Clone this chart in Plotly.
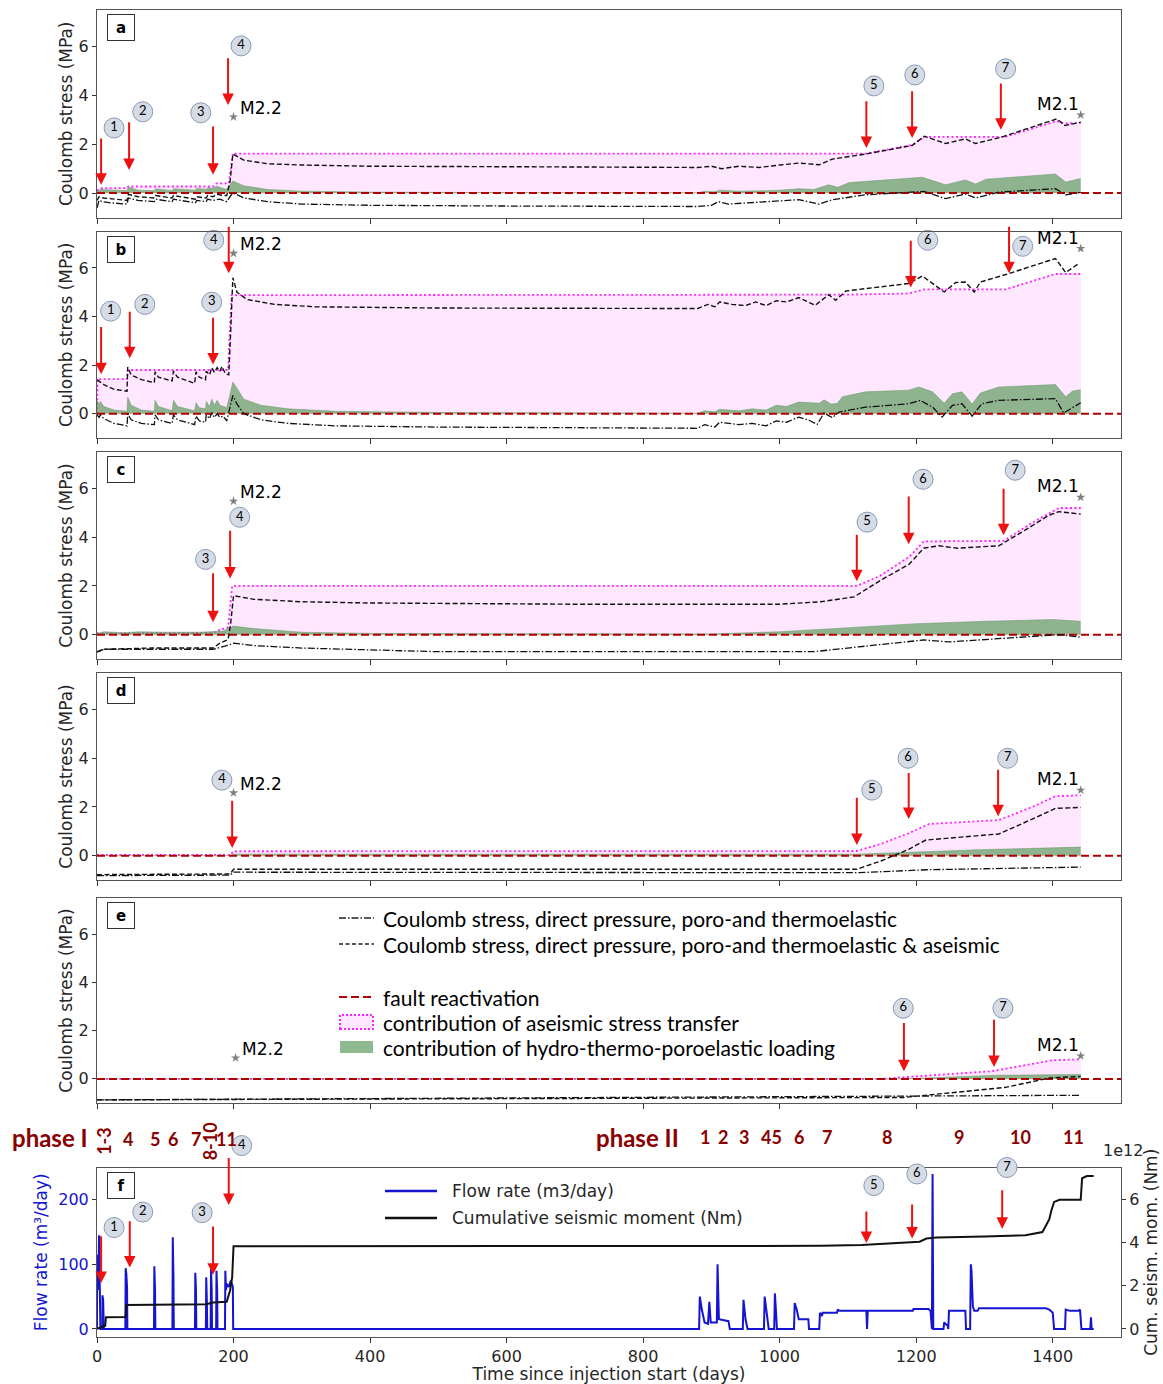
import plotly.graph_objects as go

W, H = 1163, 1384
FONT = "DejaVu Sans"
LEG_FONT = "Lato"
TXT = "#262626"

# ---------------- data (day, MPa) ----------------
a_dashdot = [(0,-0.6),(3,-0.3),(8,-0.35),(20,-0.4),(44,-0.45),(46,-0.2),(60,-0.3),(84,-0.35),(86,-0.25),(110,-0.35),
             (112,-0.25),(144,-0.4),(146,-0.3),(160,-0.35),(162,-0.25),(170,-0.3),(180,-0.25),(190,-0.35),(196,-0.1),
             (200,0.0),(215,-0.2),(250,-0.35),(300,-0.45),(400,-0.5),(600,-0.53),(880,-0.55),(900,-0.5),(910,-0.35),
             (925,-0.45),(950,-0.4),(980,-0.35),(1000,-0.3),(1028,-0.27),(1058,-0.45),(1077,-0.27),(1126,-0.07),
             (1199,0.03),(1211,0.07),(1243,-0.23),(1272,-0.04),(1287,-0.2),(1321,0.04),(1404,0.18),(1419,-0.07),(1441,0.03)]
a_dashed = [(0,-0.3),(3,-0.15),(10,-0.2),(44,-0.3),(46,-0.05),(60,-0.15),(84,-0.2),(86,-0.1),(110,-0.2),(112,-0.1),
            (144,-0.25),(146,-0.15),(160,-0.2),(162,-0.1),(170,-0.15),(175,-0.05),(185,-0.1),(190,-0.1),(195,0.5),
            (199,1.6),(215,1.35),(250,1.2),(300,1.15),(400,1.1),(600,1.08),(880,1.05),(900,1.1),(915,1.0),(940,1.1),
            (970,1.05),(1000,1.15),(1028,1.23),(1058,1.16),(1077,1.39),(1126,1.6),(1194,1.95),(1212,2.33),(1243,2.03),
            (1272,2.22),(1287,2.03),(1326,2.3),(1365,2.67),(1406,3.04),(1418,2.77),(1441,2.9)]
a_aseismic = [(0,0.1),(5,0.2),(44,0.2),(46,0.27),(170,0.27),(175,0.4),(193,0.4),(199,1.62),(1126,1.62),(1194,1.97),
              (1212,2.3),(1330,2.3),(1365,2.6),(1406,2.95),(1418,2.85),(1441,2.88)]
a_hydro = [(0,0.05),(5,0.15),(44,0.1),(46,0.25),(60,0.12),(84,0.1),(86,0.18),(110,0.1),(112,0.18),(144,0.12),(146,0.2),
           (160,0.15),(162,0.22),(170,0.2),(175,0.28),(185,0.2),(190,0.15),(195,0.35),(199,0.5),(215,0.3),(250,0.15),
           (300,0.08),(400,0.04),(600,0.02),(880,0.01),(890,0.08),(905,0.05),(912,0.12),(940,0.08),(980,0.1),
           (1000,0.12),(1028,0.18),(1050,0.15),(1072,0.34),(1085,0.24),(1102,0.43),(1150,0.54),(1209,0.65),
           (1243,0.34),(1272,0.54),(1287,0.37),(1302,0.57),(1404,0.78),(1419,0.45),(1441,0.6)]

b_dashdot = [(0,-0.05),(3,-0.15),(5,-0.05),(10,-0.2),(25,-0.4),(44,-0.5),(45,0.0),(50,-0.25),(65,-0.4),(84,-0.45),
             (85,-0.05),(90,-0.25),(110,-0.4),(112,-0.05),(118,-0.25),(143,-0.45),(145,-0.1),(150,-0.3),(159,-0.35),
             (160,-0.05),(165,-0.2),(168,0.05),(172,-0.15),(176,0.0),(180,-0.15),(185,-0.1),(190,-0.3),(194,0.2),
             (199,0.75),(205,0.4),(215,0.0),(240,-0.25),(280,-0.4),(350,-0.5),(500,-0.55),(880,-0.6),(890,-0.45),
             (905,-0.55),(912,-0.35),(940,-0.45),(960,-0.4),(980,-0.5),(995,-0.3),(1010,-0.35),(1028,-0.14),
             (1043,-0.27),(1055,-0.44),(1065,0.03),(1077,-0.16),(1087,0.07),(1126,0.27),(1189,0.41),(1206,0.55),
             (1224,0.27),(1238,-0.14),(1253,0.34),(1267,0.41),(1282,-0.1),(1296,0.41),(1321,0.55),(1404,0.62),
             (1416,0.03),(1441,0.45)]
b_dashed = [(0,1.4),(3,1.35),(10,1.2),(25,1.0),(44,0.93),(45,1.92),(50,1.6),(65,1.4),(84,1.28),(85,1.72),(90,1.5),
            (110,1.35),(112,1.75),(118,1.5),(143,1.25),(145,1.72),(150,1.5),(159,1.4),(160,1.75),(165,1.6),(168,1.9),
            (172,1.7),(176,1.9),(180,1.75),(183,1.95),(188,1.65),(193,1.6),(196,3.5),(199,5.6),(205,5.0),(220,4.7),
            (260,4.5),(320,4.4),(500,4.35),(880,4.33),(895,4.5),(905,4.4),(912,4.6),(930,4.5),(950,4.45),(965,4.6),
            (980,4.45),(995,4.65),(1010,4.6),(1028,4.78),(1052,4.46),(1072,4.9),(1082,4.67),(1097,5.05),(1189,5.36),
            (1209,5.67),(1241,5.01),(1258,5.4),(1272,5.42),(1285,5.01),(1294,5.42),(1336,5.77),(1404,6.39),
            (1419,5.81),(1438,6.18)]
b_aseismic = [(0,0.0),(1,1.42),(44,1.42),(45,1.8),(192,1.8),(197,4.88),(1100,4.9),(1189,4.95),(1212,5.12),
              (1331,5.12),(1404,5.75),(1441,5.75)]
b_hydro = [(0,0.55),(3,0.4),(5,0.5),(10,0.3),(25,0.15),(44,0.1),(45,0.68),(50,0.35),(65,0.15),(84,0.1),(85,0.55),
           (90,0.3),(110,0.12),(112,0.55),(118,0.3),(143,0.12),(145,0.45),(150,0.25),(159,0.2),(160,0.5),(165,0.3),
           (168,0.6),(172,0.35),(176,0.55),(180,0.35),(185,0.3),(190,0.25),(194,0.7),(199,1.3),(205,1.05),(215,0.6),
           (240,0.35),(280,0.2),(350,0.1),(500,0.05),(880,0.02),(890,0.12),(905,0.08),(912,0.18),(940,0.12),
           (960,0.2),(980,0.15),(995,0.35),(1010,0.3),(1028,0.48),(1058,0.43),(1065,0.57),(1075,0.4),(1084,0.42),
           (1092,0.7),(1126,0.9),(1189,0.97),(1204,1.1),(1224,0.9),(1241,0.43),(1253,0.82),(1267,0.9),(1282,0.4),
           (1294,0.85),(1321,1.1),(1404,1.2),(1419,0.7),(1429,0.93),(1441,0.99)]

c_dashdot = [(0,-0.72),(10,-0.6),(40,-0.6),(170,-0.6),(190,-0.45),(200,-0.35),(230,-0.45),(300,-0.55),(500,-0.7),
             (1050,-0.7),(1116,-0.5),(1211,-0.22),(1248,-0.3),(1321,-0.15),(1409,0.0),(1441,-0.1)]
c_dashed = [(0,-0.7),(10,-0.6),(40,-0.58),(80,-0.55),(170,-0.55),(180,-0.35),(192,-0.2),(196,0.5),(200,1.6),
            (230,1.45),(300,1.35),(400,1.3),(700,1.25),(1000,1.25),(1060,1.35),(1109,1.55),(1146,2.2),(1190,2.9),
            (1211,3.55),(1233,3.65),(1260,3.55),(1321,3.65),(1360,4.3),(1394,4.9),(1409,5.05),(1441,4.95)]
c_aseismic = [(0,0.05),(170,0.07),(180,0.2),(192,0.3),(198,2.0),(1113,2.0),(1146,2.4),(1190,3.2),(1211,3.83),
              (1328,3.85),(1370,4.6),(1409,5.2),(1441,5.2)]
c_hydro = [(0,0.05),(10,0.12),(40,0.08),(60,0.12),(100,0.1),(150,0.1),(185,0.15),(195,0.3),(200,0.35),(230,0.25),
           (300,0.1),(400,0.05),(600,0.03),(900,0.03),(1000,0.12),(1100,0.3),(1200,0.45),(1300,0.55),(1400,0.62),
           (1441,0.55)]

d_dashdot = [(0,-0.82),(195,-0.8),(200,-0.68),(970,-0.72),(1116,-0.7),(1214,-0.58),(1441,-0.47)]
d_dashed = [(0,-0.78),(195,-0.75),(200,-0.56),(1113,-0.56),(1150,-0.2),(1189,0.26),(1214,0.64),(1321,0.89),
            (1370,1.5),(1404,1.94),(1441,1.98)]
d_aseismic = [(0,0.03),(195,0.03),(200,0.18),(1113,0.19),(1150,0.5),(1189,0.92),(1219,1.3),(1321,1.46),
              (1370,2.0),(1404,2.44),(1441,2.48)]
d_hydro = [(0,0.0),(195,0.0),(200,0.06),(1110,0.06),(1200,0.15),(1300,0.25),(1441,0.35)]

e_dashdot = [(0,-0.87),(600,-0.8),(1441,-0.68)]
e_dashed = [(0,-0.87),(1182,-0.77),(1331,-0.35),(1396,0.04),(1441,0.1)]
e_aseismic = [(0,0.0),(1150,0.0),(1182,0.07),(1311,0.32),(1399,0.77),(1441,0.81)]
e_hydro = [(0,0.0),(1180,0.0),(1320,0.15),(1441,0.18)]

# earthquakes M2.2 / M2.1 star positions (day, MPa) per panel
m22_stars = [(200,3.12),(200,6.6),(200,5.48),(200,2.58),(203,0.87)]
m21_stars = [(1441,3.2),(1441,6.8),(1441,5.64),(1441,2.69),(1441,0.95)]

# events: (label, day, arrow tail, arrow tip, circle day, circle value)
a_events = [("1",6,2.3,0.34,25,2.67),("2",47,2.96,0.95,67,3.33),("3",170,2.79,0.75,152,3.29),
            ("4",192,5.58,3.61,211,6.03),("5",1127,3.82,1.85,1138,4.39),("6",1194,4.23,2.26,1198,4.84),
            ("7",1324,4.55,2.59,1331,5.09)]
b_events = [("1",6,3.63,1.62,20,4.22),("2",48,4.26,2.28,70,4.5),("3",170,4.01,2.03,168,4.59),
            ("4",193,7.76,5.78,171,7.14),("6",1192,7.18,5.2,1217,7.14),("7",1336,7.76,5.78,1356,6.89)]
c_events = [("3",170,2.58,0.51,159,3.09),("4",195,4.33,2.31,209,4.82),("5",1113,4.16,2.19,1128,4.62),
            ("6",1189,5.73,3.71,1210,6.38),("7",1328,6.05,4.08,1345,6.75)]
d_events = [("4",198,2.32,0.31,183,3.1),("5",1113,2.44,0.44,1135,2.69),("6",1189,3.46,1.5,1188,4.0),
            ("7",1320,3.59,1.62,1334,4.0)]
e_events = [("6",1182,2.38,0.32,1181,2.93),("7",1314,2.51,0.49,1327,2.93)]
f_events = [("1",6,146,71,25,157),("2",48,169,95,67,181),("3",170,161,84,154,180),("4",193,267,192,212,284),
            ("5",1127,184,133,1138,222),("6",1194,195,140,1201,240),("7",1326,217,155,1333,250)]

# panel f: flow rate (m3/day) and cumulative seismic moment (1e12 Nm)
flow_rate = [(0,0),(0,115),(1,60),(2,80),(3,145),(4,70),(5,0),(8,0),(8,52),(9,45),(10,0),(41.5,0),(42,94),(43,85),
             (44,65),(44.5,0),(83.5,0),(84,97),(85,60),(85.5,0),(110.5,0),(111,142),(112,80),(112.5,0),(143.5,0),
             (144,87),(145,60),(145.5,0),(159.5,0),(160,80),(161,40),(161.5,0),(166.5,0),(167,95),(168,60),(168.5,0),
             (174.5,0),(175,90),(176,60),(176.5,0),(187.5,0),(188,90),(189,60),(190,70),(193,65),(196,75),(199,65),
             (199.5,0),(882,0),(883,50),(886,30),(888,20),(890,10),(895,8),(897,42),(899,10),(908,10),(909,100),
             (911,15),(925,12),(927,0),(946,0),(947,45),(950,15),(953,0),(977,0),(978,50),(981,25),(984,0),(992,0),
             (993,55),(995,20),(996,0),(1021,0),(1022,40),(1025,30),(1028,15),(1042,15),(1043,0),(1058,0),(1059,25),
             (1062,20),(1063,25),(1084,25),(1085,30),(1087,28),(1127,28),(1128,0),(1129,28),(1195,28),(1196,31),
             (1218,31),(1221,28),(1223,0),(1224,240),(1225,0),(1240,0),(1241,10),(1246,5),(1247,0),(1248,28),
             (1272,28),(1273,0),(1279,0),(1280,100),(1281,90),(1283,35),(1285,28),(1290,28),(1292,32),(1390,32),
             (1395,30),(1400,25),(1402,0),(1418,0),(1419,30),(1425,28),(1438,28),(1440,30),(1442,0),(1455,0),
             (1456,18),(1457,0),(1460,0)]
cum_moment = [(0,0.0),(5,0.05),(12,0.15),(13,0.54),(42,0.55),(43,1.11),(100,1.13),(160,1.15),(170,1.23),(190,1.26),
              (195,1.8),(198,2.4),(200,3.84),(600,3.85),(1060,3.86),(1120,3.9),(1190,4.0),(1205,4.05),(1215,4.2),
              (1230,4.25),(1300,4.3),(1360,4.35),(1385,4.5),(1390,4.8),(1395,5.1),(1398,5.5),(1402,5.9),(1410,6.0),
              (1441,6.0),(1443,7.0),(1450,7.1),(1460,7.1)]

phase1_ticks = [("1-3",10,True),("4",45,False),("5",85,False),("6",111,False),("7",145,False),("8-10",166,True),("11",190,False)]
phase2_ticks = [("1",890),("2",917),("3",948),("45",988),("6",1029),("7",1069),("8",1157),("9",1263),("10",1353),("11",1431)]

panel_series = [
    ("a", a_dashdot, a_dashed, a_aseismic, a_hydro, a_events),
    ("b", b_dashdot, b_dashed, b_aseismic, b_hydro, b_events),
    ("c", c_dashdot, c_dashed, c_aseismic, c_hydro, c_events),
    ("d", d_dashdot, d_dashed, d_aseismic, d_hydro, d_events),
    ("e", e_dashdot, e_dashed, e_aseismic, e_hydro, e_events),
]

# ---------------- layout geometry ----------------
rows_px = [(10, 217.5), (231.5, 438), (452, 659), (673, 880), (898, 1103), (1167.5, 1337)]
x_dom = [97 / W, 1121 / W]
def ydom(top, bot):
    return [1 - bot / H, 1 - top / H]

XRANGE = [0, 1500]
YRANGE = [-1, 7.5]
FLOW_RANGE = [-12.5, 250]

fig = go.Figure()
annotations = []
shapes = []
circle_traces = []

def xs(s): return [p[0] for p in s]
def ys(s): return [p[1] for p in s]

def add_events(events, xa, ya, ya_circles=None):
    for lab, day, tail, tip, cd, cv in events:
        annotations.append(dict(x=day, y=tip, ax=day, ay=tail, xref=xa, yref=ya, axref=xa, ayref=ya,
                                text="", showarrow=True, arrowhead=2, arrowsize=1.15, arrowwidth=2,
                                arrowcolor="#ee1111", standoff=0))
    circle_traces.append(go.Scatter(
        x=[e[4] for e in events], y=[e[5] for e in events], text=[e[0] for e in events],
        mode="markers+text", textposition="middle center", cliponaxis=False,
        marker=dict(symbol="circle", size=20, color="#d6dce6", line=dict(color="#8a9ab4", width=1)),
        textfont=dict(family=LEG_FONT, size=13, color="black"),
        xaxis=xa, yaxis=ya_circles or ya, hoverinfo="skip"))

def panel_label(lab, xa, ya):
    annotations.append(dict(x=0, y=1, xref=f"{xa} domain", yref=f"{ya} domain", text=f"<b>{lab}</b>",
                            showarrow=False, xanchor="left", yanchor="top", xshift=10, yshift=-4,
                            width=24, height=23, bordercolor="#333", borderwidth=1, borderpad=1,
                            font=dict(family=FONT, size=15, color="black")))

for i, (lab, dd, dsh, ase, hyd, ev) in enumerate(panel_series):
    k = i + 1
    xa = "x" if k == 1 else f"x{k}"
    ya = "y" if k == 1 else f"y{k}"
    fig.add_trace(go.Scatter(x=xs(ase), y=ys(ase), mode="lines", fill="tozeroy",
                             fillcolor="rgba(255,180,255,0.32)",
                             line=dict(color="#ff22ff", width=1.8, dash="2px,2.5px"),
                             xaxis=xa, yaxis=ya, hoverinfo="skip"))
    fig.add_trace(go.Scatter(x=xs(hyd), y=ys(hyd), mode="lines", fill="tozeroy",
                             fillcolor="rgba(100,160,100,0.72)",
                             line=dict(color="rgba(90,150,90,0.6)", width=0.8),
                             xaxis=xa, yaxis=ya, hoverinfo="skip"))
    fig.add_trace(go.Scatter(x=XRANGE, y=[0, 0], mode="lines",
                             line=dict(color="#b00000", width=2, dash="8px,4px"),
                             xaxis=xa, yaxis=ya, hoverinfo="skip"))
    fig.add_trace(go.Scatter(x=xs(dd), y=ys(dd), mode="lines",
                             line=dict(color="#111111", width=1.3, dash="7px,2px,1.5px,2px"),
                             xaxis=xa, yaxis=ya))
    fig.add_trace(go.Scatter(x=xs(dsh), y=ys(dsh), mode="lines",
                             line=dict(color="#111111", width=1.4, dash="5px,2.5px"),
                             xaxis=xa, yaxis=ya))
    s22, s21 = m22_stars[i], m21_stars[i]
    fig.add_trace(go.Scatter(x=[s22[0], s21[0]], y=[s22[1], s21[1]], mode="markers", cliponaxis=False,
                             marker=dict(symbol="star", size=7, color="#808080"),
                             xaxis=xa, yaxis=ya))
    annotations.append(dict(x=s22[0], y=s22[1], xref=xa, yref=ya, text="M2.2", showarrow=False,
                            xanchor="left", yanchor="middle", xshift=4, yshift=9,
                            font=dict(family=FONT, size=17, color="black")))
    annotations.append(dict(x=s21[0], y=s21[1], xref=xa, yref=ya, text="M2.1", showarrow=False,
                            xanchor="right", yanchor="middle", xshift=0, yshift=11,
                            font=dict(family=FONT, size=17, color="black")))
    add_events(ev, xa, ya)
    panel_label(lab, xa, ya)
    top, bot = rows_px[i]
    fig.update_layout(**{
        ("xaxis" if k == 1 else f"xaxis{k}"): dict(domain=x_dom, anchor=ya, range=XRANGE, automargin=False,
            tickvals=list(range(0, 1500, 200)), showticklabels=False, ticks="outside", ticklen=5,
            tickcolor="#333", showline=True, mirror=True, linecolor="#555", linewidth=1,
            showgrid=False, zeroline=False),
        ("yaxis" if k == 1 else f"yaxis{k}"): dict(domain=ydom(top, bot), anchor=xa, range=YRANGE,
            automargin=False, tickvals=[0, 2, 4, 6], ticks="outside", ticklen=4, tickcolor="#333",
            tickfont=dict(family=FONT, size=16, color=TXT),
            title=dict(text="Coulomb stress (MPa)", font=dict(family=FONT, size=17, color=TXT), standoff=1),
            showline=True, mirror=True, linecolor="#555", linewidth=1, showgrid=False, zeroline=False),
    })

# ---------------- panel f ----------------
BLUE = "#1414d2"
fig.add_trace(go.Scatter(x=xs(flow_rate), y=ys(flow_rate), mode="lines",
                         line=dict(color=BLUE, width=2), xaxis="x6", yaxis="y6"))
fig.add_trace(go.Scatter(x=xs(cum_moment), y=[v * 1e12 for v in ys(cum_moment)], mode="lines",
                         line=dict(color="#111111", width=2), xaxis="x6", yaxis="y7"))
add_events(f_events, "x6", "y6", ya_circles="y8")
panel_label("f", "x6", "y6")
for tr in circle_traces:
    fig.add_trace(tr)

top, bot = rows_px[5]
# helper axis with the same flow-rate scale but taller domain, so event circles above the panel are drawn
ext_top = 1110
px_per_unit = (bot - top) / (FLOW_RANGE[1] - FLOW_RANGE[0])
ext_range = [FLOW_RANGE[0], FLOW_RANGE[0] + (bot - ext_top) / px_per_unit]
fig.update_layout(
    xaxis6=dict(domain=x_dom, anchor="y6", range=XRANGE, tickvals=list(range(0, 1500, 200)), automargin=False,
                ticks="outside", ticklen=5, tickcolor="#333", tickfont=dict(family=FONT, size=16, color=TXT),
                ticklabelstandoff=0,
                title=dict(text="Time since injection start (days)", font=dict(family=FONT, size=17, color=TXT),
                           standoff=2),
                showline=True, mirror=True, linecolor="#555", linewidth=1, showgrid=False, zeroline=False),
    yaxis6=dict(domain=ydom(top, bot), anchor="x6", range=FLOW_RANGE, tickvals=[0, 100, 200], automargin=False,
                ticks="outside", ticklen=4, tickcolor="#333", tickfont=dict(family=FONT, size=16, color=BLUE),
                title=dict(text="Flow rate (m³/day)", font=dict(family=FONT, size=17, color=BLUE), standoff=6),
                showline=True, mirror=True, linecolor="#555", linewidth=1, showgrid=False, zeroline=False),
    yaxis7=dict(overlaying="y6", anchor="x6", side="right", range=[-0.375e12, 7.5e12], automargin=False,
                tickvals=[0, 2e12, 4e12, 6e12], ticktext=["0", "2", "4", "6"], ticks="outside", ticklen=4,
                tickcolor="#333", tickfont=dict(family=FONT, size=16, color=TXT),
                title=dict(text="Cum. seism. mom. (Nm)", font=dict(family=FONT, size=17, color=TXT), standoff=6),
                showgrid=False, zeroline=False),
    yaxis8=dict(domain=ydom(ext_top, bot), anchor="x6", range=ext_range, visible=False, automargin=False,
                showgrid=False, zeroline=False),
)

def lx(px): return px / W
def ly(py): return 1 - py / H

annotations.append(dict(x=lx(1123), y=ly(1150), xref="paper", yref="paper", text="1e12", showarrow=False,
                        xanchor="center", yanchor="middle", font=dict(family=FONT, size=16, color=TXT)))

# phase labels
RED = "#8b0000"
annotations.append(dict(x=lx(10), y=ly(1137), xref="paper", yref="paper", text="<b>phase I</b>",
                        showarrow=False, xanchor="left", yanchor="middle",
                        font=dict(family=LEG_FONT, size=24, color=RED)))
annotations.append(dict(x=lx(681), y=ly(1137), xref="paper", yref="paper", text="<b>phase II</b>",
                        showarrow=False, xanchor="right", yanchor="middle",
                        font=dict(family=LEG_FONT, size=24, color=RED)))
for lab, day, rot in phase1_ticks:
    annotations.append(dict(x=day, y=ly(1141 if rot else 1139), xref="x6", yref="paper", text=f"<b>{lab}</b>",
                            showarrow=False, textangle=-90 if rot else 0, xanchor="center", yanchor="middle",
                            font=dict(family=LEG_FONT, size=18, color=RED)))
for lab, day in phase2_ticks:
    annotations.append(dict(x=day, y=ly(1137), xref="x6", yref="paper", text=f"<b>{lab}</b>",
                            showarrow=False, xanchor="center", yanchor="middle",
                            font=dict(family=LEG_FONT, size=18, color=RED)))

# legend in panel f (drawn)
shapes.append(dict(type="line", xref="paper", yref="paper", x0=lx(385), x1=lx(437), y0=ly(1191), y1=ly(1191),
                   line=dict(color=BLUE, width=2.5)))
shapes.append(dict(type="line", xref="paper", yref="paper", x0=lx(385), x1=lx(437), y0=ly(1218), y1=ly(1218),
                   line=dict(color="#111", width=2.5)))
annotations.append(dict(x=lx(450), y=ly(1191), xref="paper", yref="paper", text="Flow rate (m3/day)",
                        showarrow=False, xanchor="left", yanchor="middle",
                        font=dict(family=FONT, size=17, color=TXT)))
annotations.append(dict(x=lx(450), y=ly(1218), xref="paper", yref="paper", text="Cumulative seismic moment (Nm)",
                        showarrow=False, xanchor="left", yanchor="middle",
                        font=dict(family=FONT, size=17, color=TXT)))

# legend in panel e (drawn)
leg_items = [
    (918, "line", dict(color="#222", width=1.3, dash="7px,2px,1.5px,2px"), "Coulomb stress, direct pressure, poro-and thermoelastic"),
    (944, "line", dict(color="#222", width=1.3, dash="4px,2.5px"), "Coulomb stress, direct pressure, poro-and thermoelastic & aseismic"),
    (997, "line", dict(color="#b00000", width=2, dash="8px,4px"), "fault reactivation"),
    (1022, "pink", None, "contribution of aseismic stress transfer"),
    (1047, "green", None, "contribution of hydro-thermo-poroelastic loading"),
]
for py, kind, ln, txt in leg_items:
    if kind == "line":
        shapes.append(dict(type="line", xref="paper", yref="paper", x0=lx(339), x1=lx(374), y0=ly(py), y1=ly(py),
                           line=ln))
    elif kind == "pink":
        shapes.append(dict(type="rect", xref="paper", yref="paper", x0=lx(340), x1=lx(373), y0=ly(py + 7),
                           y1=ly(py - 7), fillcolor="rgba(255,180,255,0.32)",
                           line=dict(color="#ff22ff", width=2, dash="2px,2px")))
    else:
        shapes.append(dict(type="rect", xref="paper", yref="paper", x0=lx(340), x1=lx(373), y0=ly(py + 6),
                           y1=ly(py - 6), fillcolor="rgba(100,160,100,0.72)", line=dict(width=0)))
    annotations.append(dict(x=lx(381), y=ly(py), xref="paper", yref="paper", text=txt, showarrow=False,
                            xanchor="left", yanchor="middle", font=dict(family=LEG_FONT, size=21, color="black")))

fig.update_layout(width=W, height=H, margin=dict(l=0, r=0, t=0, b=0, autoexpand=False), paper_bgcolor="white",
                  plot_bgcolor="rgba(0,0,0,0)", showlegend=False, annotations=annotations, shapes=shapes)
fig.write_html("out.html")
